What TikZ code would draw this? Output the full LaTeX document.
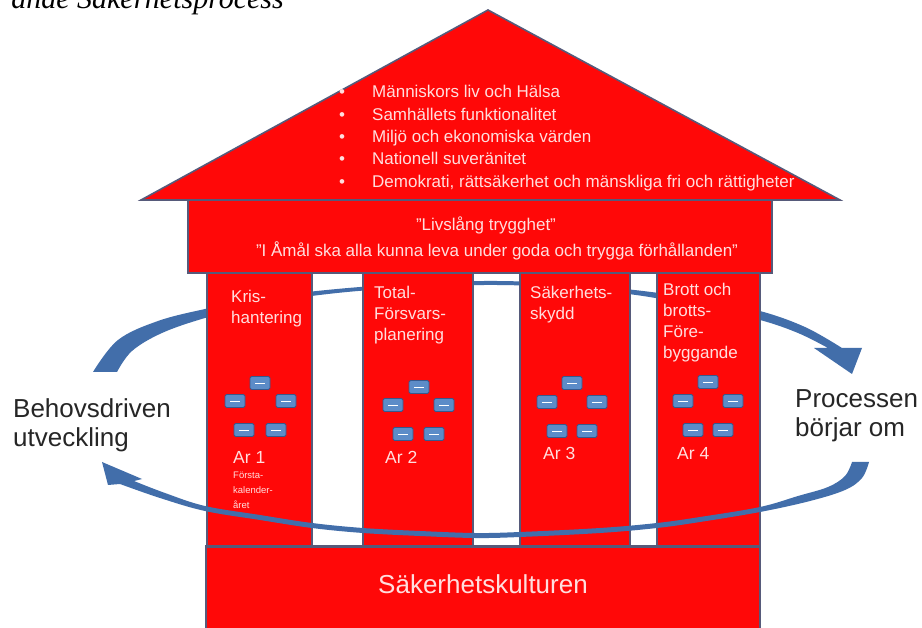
\documentclass[tikz,border=0pt]{standalone}
\usepackage{fontspec}
\setmainfont{Liberation Sans}
\newfontfamily\titlefont{Liberation Serif}
\definecolor{hred}{RGB}{255,8,8}
\definecolor{hedge}{RGB}{86,90,122}
\definecolor{arrowblue}{RGB}{66,110,170}
\definecolor{iconblue}{RGB}{92,140,200}
\definecolor{iconedge}{RGB}{55,88,140}
\definecolor{htext}{RGB}{255,222,222}
\definecolor{dtext}{RGB}{38,38,38}
\begin{document}
\begin{tikzpicture}[x=1pt,y=-1pt,
  house/.style={fill=hred, draw=hedge, line width=1.6pt},
  lbl/.style={text=htext, font=\fontsize{17}{21}\selectfont, align=left, inner sep=0pt, anchor=base west},
  yearlbl/.style={text=htext, font=\fontsize{17.5}{21}\selectfont, inner sep=0pt, anchor=base west},
  smalllbl/.style={text=htext, font=\fontsize{9.5}{15}\selectfont, align=left, inner sep=0pt, anchor=base west},
  rooftxt/.style={text=htext, font=\fontsize{17}{21}\selectfont, inner sep=0pt, anchor=base west},
  sidelbl/.style={text=dtext, font=\fontsize{26}{29}\selectfont, align=left, inner sep=0pt, anchor=base west},
  icon/.style={fill=iconblue, draw=iconedge, line width=0.8pt, rounded corners=1.5pt, minimum width=20pt, minimum height=13pt, inner sep=0pt},
  flow/.style={fill=arrowblue}]
\useasboundingbox (0,0) rectangle (922,628);
\fill[white] (0,0) rectangle (922,628);

% clipped title
\node[anchor=base east, font=\titlefont\itshape\fontsize{30}{34}\selectfont, inner sep=0pt] (title) at (284,9) {ande Säkerhetsprocess};

% upper (rear) arrow
\fill[flow] plot[smooth, tension=0.6] coordinates {(93,372) (118,340) (158,321) (205,309) (260,298) (337,289) (420,283) (497,281) (570,284) (643,291) (705,300) (760,311) (805,327) (842,348)}
  -- (862,348) -- (852,374) -- (814,348)
  -- plot[smooth, tension=0.6] coordinates {(828,348) (798,333) (760,320) (705,308) (643,296) (570,288) (497,285) (420,287) (337,293) (260,304) (205,318) (162,333) (132,351) (117,372)} -- cycle;

% roof, beam, pillars, base
\path[house] (141,200) -- (488,10) -- (840,200) -- cycle;
\path[house] (188,200) rectangle (772,273);
\path[house] (207,273) rectangle (312,546);
\path[house] (363,273) rectangle (473,546);
\path[house] (520,273) rectangle (630,546);
\path[house] (657,273) rectangle (760,546);
\path[house] (206,546) rectangle (760,640);
\draw[hedge, line width=3pt] (206,546) -- (760,546);

% roof text
\node[rooftxt] (b1) at (339,98) {•};
\node[rooftxt] (b2) at (339,120.3) {•};
\node[rooftxt] (b3) at (339,142.6) {•};
\node[rooftxt] (b4) at (339,164.9) {•};
\node[rooftxt] (b5) at (339,187.2) {•};
\node[rooftxt] (v1) at (372,98) {Människors liv och Hälsa};
\node[rooftxt] (v2) at (372,120.3) {Samhällets funktionalitet};
\node[rooftxt] (v3) at (372,142.6) {Miljö och ekonomiska värden};
\node[rooftxt] (v4) at (372,164.9) {Nationell suveränitet};
\node[rooftxt] (v5) at (372,187.2) {Demokrati, rättsäkerhet och mänskliga fri och rättigheter};

% beam text
\node[text=htext, font=\fontsize{17}{21}\selectfont, inner sep=0pt, anchor=base] (motto1) at (486,231) {"Livslång trygghet"};
\node[text=htext, font=\fontsize{17}{21}\selectfont, inner sep=0pt, anchor=base] (motto2) at (497,257) {"I Åmål ska alla kunna leva under goda och trygga förhållanden"};

% pillar labels (base anchor = baseline of last line)
\node[lbl] (p1) at (231,324) {Kris-\\hantering};
\node[lbl] (p2) at (374,341) {Total-\\Försvars-\\planering};
\node[lbl] (p3) at (530,320) {Säkerhets-\\skydd};
\node[lbl] (p4) at (663,359) {Brott och\\brotts-\\Före-\\byggande};
\node[yearlbl] (y1) at (233,464) {Ar 1};
\node[yearlbl] (y2) at (385,464) {Ar 2};
\node[yearlbl] (y3) at (543,460) {Ar 3};
\node[yearlbl] (y4) at (677,460) {Ar 4};
\node[smalllbl] (y1note) at (233,508) {Första-\\kalender-\\året};

% icons
\foreach \n/\x/\y in {a1/260/383, a2/235/401, a3/286/401, a4/244/430, a5/276/430,
                      b1/419/387, b2/393/405, b3/444/405, b4/403/434, b5/434/434,
                      c1/572/383, c2/547/402, c3/597/402, c4/557/431, c5/587/431,
                      d1/708/382, d2/683/401, d3/733/401, d4/693/430, d5/723/430}{
  \node[icon] (ic\n) at (\x,\y) {};
  \draw[white, line width=0.5pt] ([xshift=-5pt]ic\n.center) -- ([xshift=5pt]ic\n.center);
}

% base text
\node[text=htext, font=\fontsize{26}{30}\selectfont, inner sep=0pt] (culture) at (483,584) {Säkerhetskulturen};

% lower (front) arrow
\fill[flow] plot[smooth, tension=0.6] coordinates {(852,462) (845,476) (828,487) (798,496) (760,507) (700,517) (657,523) (600,528) (520,532) (475,533) (420,531) (363,528) (312,523) (260,515) (205,506) (165,493) (134,481)}
  -- (142,479) -- (102,462) -- (108,485)
  -- plot[smooth, tension=0.6] coordinates {(120,484) (160,498) (205,511) (260,520) (312,528) (363,533) (420,536) (475,538) (520,537) (600,533) (657,528) (700,522) (760,512) (810,501) (845,490) (862,478) (869,462)} -- cycle;

% side labels (base anchor = baseline of last line)
\node[sidelbl] (left) at (13,447) {Behovsdriven\\utveckling};
\node[sidelbl] (right) at (795,437) {Processen\\börjar om};
\end{tikzpicture}
\end{document}
